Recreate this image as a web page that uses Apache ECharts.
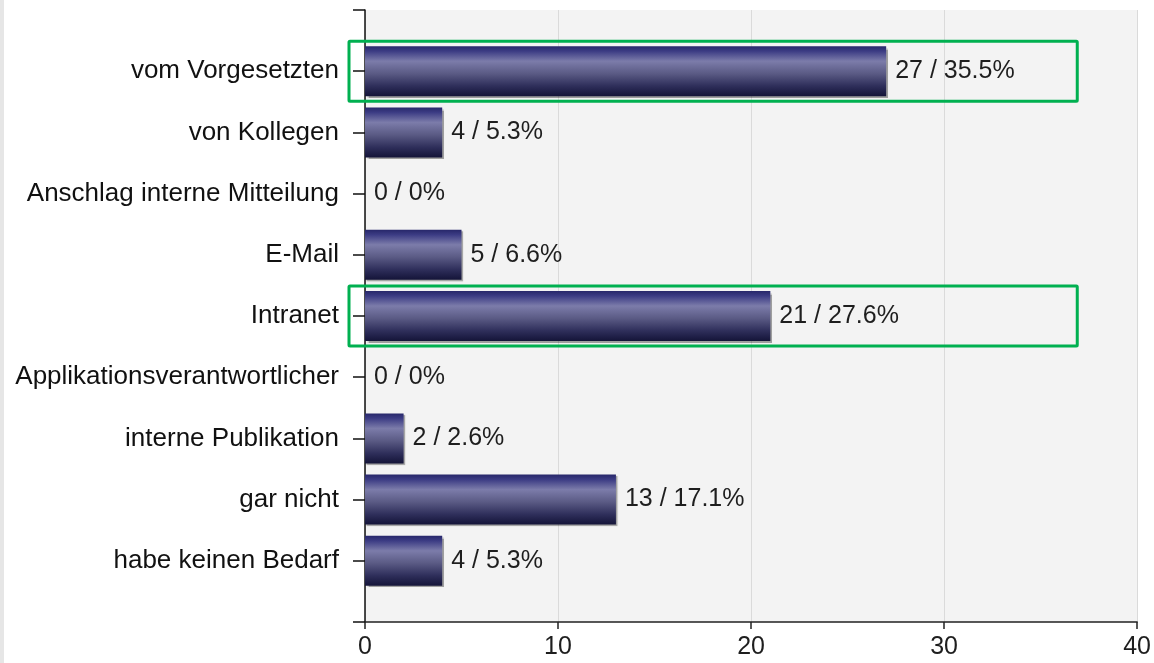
<!DOCTYPE html>
<html>
<head>
<meta charset="utf-8">
<script src="https://cdn.jsdelivr.net/npm/echarts@6/dist/echarts.min.js"></script>
<style>
  html, body { margin: 0; padding: 0; background: #ffffff; }
  #chart { width: 1154px; height: 663px; }
</style>
</head>
<body>
<div id="chart"></div>
<script>
// Antworten auf die Frage, wie man über Neuerungen informiert wird
const categories = [
  'vom Vorgesetzten',
  'von Kollegen',
  'Anschlag interne Mitteilung',
  'E-Mail',
  'Intranet',
  'Applikationsverantwortlicher',
  'interne Publikation',
  'gar nicht',
  'habe keinen Bedarf'
];
const counts = [27, 4, 0, 5, 21, 0, 2, 13, 4];
const percents = ['35.5', '5.3', '0', '6.6', '27.6', '0', '2.6', '17.1', '5.3'];
const xTicks = [0, 10, 20, 30, 40];
const highlighted = ['vom Vorgesetzten', 'Intranet'];

const FONT = '"Liberation Sans", Arial, sans-serif';

// half a row of empty space above and below the bars
const axisCats = [''].concat(categories, [' ']);
const barData = ['-'].concat(counts, ['-']);

const chart = echarts.init(document.getElementById('chart'), null, { renderer: 'canvas' });

chart.setOption({
  animation: false,
  backgroundColor: '#ffffff',
  grid: {
    left: 365, right: 16, top: 10, bottom: 41,
    show: true, backgroundColor: '#f3f3f3', borderWidth: 0
  },
  xAxis: {
    type: 'value',
    min: xTicks[0], max: xTicks[xTicks.length - 1], interval: 10,
    axisLine: { show: true, lineStyle: { color: '#222222', width: 1.5 } },
    axisTick: { show: true, length: 7, lineStyle: { color: '#222222', width: 1.5 } },
    axisLabel: { color: '#1e1e1e', fontSize: 25, fontFamily: FONT, margin: 13 },
    splitLine: { show: true, lineStyle: { color: '#dadada', width: 1 } }
  },
  yAxis: {
    type: 'category',
    inverse: true,
    boundaryGap: false,
    data: axisCats,
    axisLine: { show: true, lineStyle: { color: '#111111', width: 1.5 } },
    axisTick: { show: true, length: 12, alignWithLabel: true, lineStyle: { color: '#111111', width: 1.5 } },
    axisLabel: { color: '#111111', fontSize: 26, fontFamily: FONT, margin: 26, interval: 0 },
    splitLine: { show: false }
  },
  series: [{
    type: 'bar',
    data: barData,
    barWidth: 50,
    itemStyle: {
      color: new echarts.graphic.LinearGradient(0, 0, 0, 1, [
        { offset: 0, color: '#27276a' },
        { offset: 0.1, color: '#3c3c84' },
        { offset: 0.3, color: '#7c7caa' },
        { offset: 0.55, color: '#5a5a84' },
        { offset: 0.8, color: '#2e2e5a' },
        { offset: 1, color: '#141438' }
      ]),
      shadowColor: 'rgba(0,0,0,0.35)',
      shadowOffsetX: 1.5,
      shadowOffsetY: 1.5,
      shadowBlur: 1
    },
    label: {
      show: true,
      position: 'right',
      distance: 9,
      fontSize: 25,
      fontFamily: FONT,
      color: '#1e1e1e',
      formatter: function (p) {
        const i = p.dataIndex - 1;
        return counts[i] + ' / ' + percents[i] + '%';
      }
    }
  }]
});

// green frames around the highlighted answers
const x0 = chart.convertToPixel({ xAxisIndex: 0 }, 0);
const xEnd = chart.convertToPixel({ xAxisIndex: 0 }, 36.9);
const frames = highlighted.map(function (name) {
  const yc = chart.convertToPixel({ yAxisIndex: 0 }, name);
  return {
    type: 'rect',
    shape: { x: x0 - 16, y: yc - 30, width: xEnd - (x0 - 16), height: 60, r: 1 },
    style: { fill: 'none', stroke: '#00b050', lineWidth: 3 },
    z: 100
  };
});

chart.setOption({
  graphic: [{
    type: 'rect',
    shape: { x: 0, y: 0, width: 4, height: 663 },
    style: { fill: '#e6e6e6' },
    z: 0
  }].concat(frames)
});
</script>
</body>
</html>
